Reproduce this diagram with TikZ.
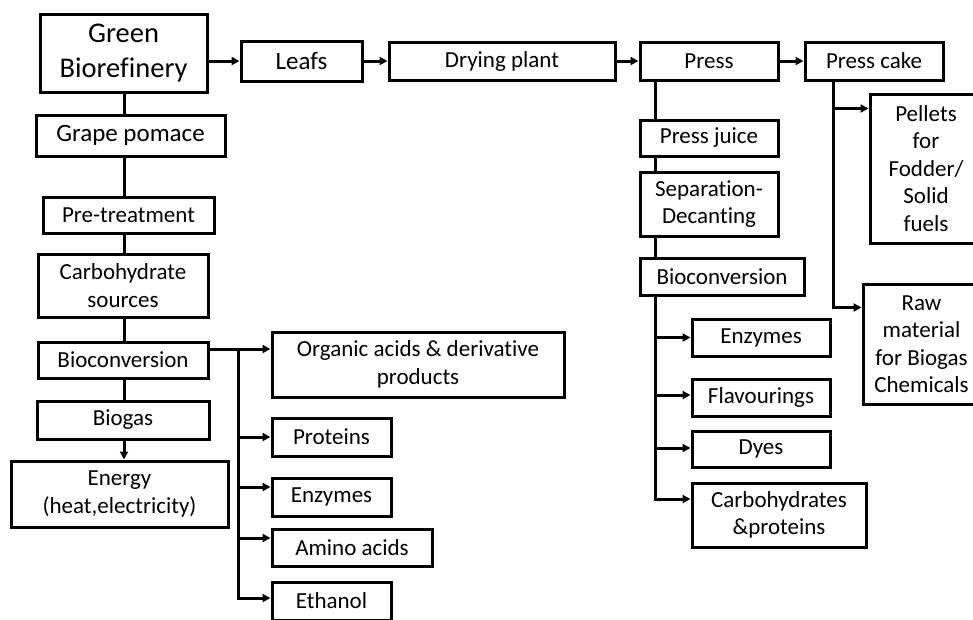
\documentclass[tikz,border=0pt]{standalone}
\usepackage{fontspec}
\setmainfont{Carlito}[Ligatures={NoCommon,NoDiscretionary}]
\usetikzlibrary{arrows.meta,calc}
\tikzset{
  box/.style={draw=black, line width=3pt, inner sep=0pt, align=center, font=\fontsize{23}{27.5}\selectfont, text=black},
  bigbox/.style={box, font=\fontsize{25}{30}\selectfont},
  gbbox/.style={box, font=\fontsize{28.5}{35}\selectfont},
  conn/.style={line width=3pt, draw=black},
  arr/.style={conn, -{Triangle[length=8pt,width=8pt]}}
}
\begin{document}
\begin{tikzpicture}[x=1pt,y=-1pt]
\useasboundingbox (0,0) rectangle (973,619);
\clip (0,0) rectangle (973,619);
% top row
\node[gbbox, minimum width=167pt, minimum height=78pt] (gb) at (123.5,53) {Green\\Biorefinery};
\node[bigbox, minimum width=121pt, minimum height=40pt] (leafs) at (301.5,61) {Leafs};
\node[box, minimum width=226pt, minimum height=38pt] (dry) at (502,61) {Drying plant};
\node[box, minimum width=138pt, minimum height=38pt] (press) at (709,61) {Press};
\node[box, minimum width=138pt, minimum height=38pt] (cake) at (874,61) {Press cake};
% press cake branch
\node[box, minimum width=112pt, minimum height=149pt] (pellets) at (926,168.5) {Pellets\\for\\Fodder/\\Solid\\fuels};
\node[box, minimum width=117pt, minimum height=120pt] (raw) at (921.5,344) {Raw\\material\\for Biogas\\Chemicals};
% press branch
\node[box, minimum width=138pt, minimum height=36pt] (pjuice) at (709,138) {Press juice};
\node[box, minimum width=138pt, minimum height=64pt] (sep) at (709,204) {Separation-\\Decanting};
\node[box, minimum width=164pt, minimum height=37pt] (bioR) at (722,276.5) {Bioconversion};
\node[box, minimum width=138pt, minimum height=37pt] (enzR) at (761,337.5) {Enzymes};
\node[box, minimum width=138pt, minimum height=37pt] (flav) at (761,397.5) {Flavourings};
\node[box, minimum width=138pt, minimum height=36pt] (dyes) at (761,449) {Dyes};
\node[box, minimum width=174pt, minimum height=64pt] (carb) at (779,515) {Carbohydrates\\\&proteins};
% left column
\node[bigbox, minimum width=189pt, minimum height=41pt] (grape) at (130.5,135.5) {Grape pomace};
\node[box, minimum width=171pt, minimum height=36pt] (pre) at (128.5,215) {Pre-treatment};
\node[box, minimum width=170pt, minimum height=63pt] (carbs) at (123,285.5) {Carbohydrate\\sources};
\node[box, minimum width=170pt, minimum height=36pt] (bioL) at (123,360) {Bioconversion};
\node[box, minimum width=172pt, minimum height=38pt] (biogas) at (123,420) {Biogas};
\node[box, minimum width=217pt, minimum height=66pt] (energy) at (119.5,494) {Energy\\(heat,electricity)};
% products of left bioconversion
\node[box, minimum width=292pt, minimum height=65pt] (org) at (418,364.5) {Organic acids \& derivative\\products};
\node[box, minimum width=119pt, minimum height=38pt] (prot) at (331.5,437) {Proteins};
\node[box, minimum width=119pt, minimum height=38pt] (enzL) at (331.5,497) {Enzymes};
\node[box, minimum width=160pt, minimum height=37pt] (amino) at (352,547.5) {Amino acids};
\node[box, minimum width=119pt, minimum height=38pt] (eth) at (331.5,601) {Ethanol};

% top row connectors
\draw[arr] (gb.east |- leafs.west) -- (leafs.west);
\draw[arr] (leafs.east) -- (dry.west);
\draw[arr] (dry.east) -- (press.west);
\draw[arr] (press.east) -- (cake.west);

% left trunk
\coordinate (tA) at ([xshift=0.5pt]gb.south);
\draw[conn] (tA) -- (tA |- grape.north);
\draw[conn] (tA |- grape.south) -- (tA |- pre.north);
\draw[conn] (tA |- pre.south) -- (tA |- carbs.north);
\draw[conn] (tA |- carbs.south) -- (tA |- bioL.north);
\draw[conn] (tA |- bioL.south) -- (tA |- biogas.north);
\draw[arr] (tA |- biogas.south) -- (tA |- energy.north);

% left bioconversion products
\coordinate (bo) at ([yshift=11pt]bioL.east);
\coordinate (tL) at ([xshift=29pt]bo);
\draw[arr] (bo) -- ([yshift=15.5pt]org.west);
\draw[arr] (tL) |- (prot.west);
\draw[arr] (tL) |- ([yshift=10pt]enzL.west);
\draw[arr] (tL) |- ([yshift=9.5pt]amino.west);
\draw[arr] (tL) |- ([yshift=3pt]eth.west);

% press trunk
\coordinate (tR) at ([xshift=17pt]press.south west);
\draw[conn] (tR) -- (tR |- pjuice.north);
\draw[conn] (tR |- pjuice.south) -- (tR |- sep.north);
\draw[conn] (tR |- sep.south) -- (tR |- bioR.north);
\coordinate (tR2) at (tR |- bioR.south);
\draw[arr] (tR2) |- (enzR.west);
\draw[arr] (tR2) |- ([yshift=2.5pt]flav.west);
\draw[arr] (tR2) |- ([yshift=1pt]dyes.west);
\draw[arr] (tR2) |- ([yshift=16pt]carb.west);

% press cake trunk
\coordinate (tC) at ([xshift=30pt]cake.south west);
\draw[arr] (tC) |- ([yshift=-16pt]pellets.north west);
\draw[arr] (tC) |- ([yshift=-25pt]raw.north west);
\end{tikzpicture}
\end{document}
